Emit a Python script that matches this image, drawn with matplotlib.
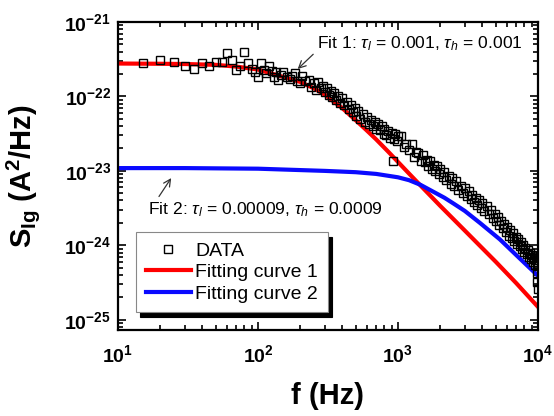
import math
import matplotlib
matplotlib.use("Agg")
import matplotlib.pyplot as plt
from matplotlib.ticker import FuncFormatter, FixedLocator, LogLocator, NullFormatter

plt.rcParams['font.family'] = ['Liberation Sans', 'DejaVu Sans']
plt.rcParams['mathtext.fontset'] = 'custom'
plt.rcParams['mathtext.rm'] = 'Liberation Sans'
plt.rcParams['mathtext.it'] = 'Liberation Sans:italic'
plt.rcParams['mathtext.bf'] = 'Liberation Sans:bold'

# measured noise spectrum (Hz, A^2/Hz)
freq = [15, 20, 25, 30, 35, 40, 45, 50, 55, 60, 65, 70, 75, 80, 85, 90, 95, 100, 105,
        110, 115, 120, 125, 130, 135, 140, 145, 150, 160, 170, 175, 185, 190, 200, 205,
        215, 230, 240, 250, 260, 270, 280, 290, 300,
        310, 320, 330, 340, 350, 360, 370, 385, 400, 415, 430, 445, 460, 475, 490, 505,
        520, 540, 560, 580, 600, 620, 640, 660, 680, 700, 720, 745, 770, 790, 800, 825,
        850, 875, 900, 920, 940, 960, 985, 1000,
        1050, 1100, 1150, 1200, 1250, 1300, 1350, 1400, 1450, 1500, 1550, 1600, 1650,
        1700, 1750, 1800, 1850, 1900, 1950, 2000, 2100, 2150, 2200, 2300, 2400, 2450,
        2500, 2600, 2700, 2800, 2900, 3000, 3100, 3200, 3300, 3400, 3500, 3600, 3700,
        3800, 3900, 4000, 4150, 4300, 4450, 4600, 4750, 4900, 5000, 5150, 5300, 5450,
        5600, 5750, 5900, 6050, 6200, 6350, 6500, 6650, 6800, 6950, 7100, 7250, 7400,
        7550, 7700, 7850, 8000, 8150, 8300, 8450, 8600, 8750, 8900, 9050, 9200, 9350,
        9500, 9650, 9800, 9850, 9900, 9950, 10000]
s_data = [2.79e-22, 3.09e-22, 2.93e-22, 2.59e-22, 2.34e-22, 2.79e-22, 2.59e-22, 2.93e-22,
          2.9e-22, 3.80e-22, 3.05e-22, 2.27e-22, 2.6e-22, 4.0e-22, 2.8e-22, 2.32e-22,
          2.16e-22, 1.85e-22, 2.79e-22,
          2.3e-22, 2.05e-22, 2.56e-22, 2.2e-22, 1.85e-22, 2.1e-22, 1.67e-22, 1.95e-22,
          2.16e-22, 1.8e-22, 1.70e-22, 1.9e-22, 2.05e-22, 1.6e-22, 1.5e-22, 1.88e-22,
          1.6e-22, 1.67e-22, 1.35e-22, 1.5e-22, 1.22e-22, 1.58e-22, 1.3e-22, 1.4e-22, 1.15e-22,
          1.28e-22, 1.05e-22, 1.18e-22, 9.8e-23, 1.1e-22, 9.0e-23, 1.0e-22, 8.2e-23, 9.5e-23,
          7.6e-23, 8.5e-23, 6.8e-23, 7.7e-23, 6.2e-23, 7.0e-23, 5.5e-23, 6.4e-23, 5.0e-23,
          5.8e-23, 4.6e-23, 5.3e-23, 4.3e-23, 4.9e-23, 4.0e-23, 4.5e-23, 3.7e-23, 4.3e-23,
          3.5e-23, 4.0e-23, 3.1e-23, 3.7e-23, 3.0e-23, 3.4e-23, 2.8e-23, 3.2e-23, 1.35e-23,
          2.7e-23, 3.1e-23, 2.5e-23, 2.9e-23,
          2.9e-23, 2.1e-23, 2.3e-23, 1.9e-23, 2.3e-23, 1.55e-23, 1.8e-23, 1.75e-23, 1.35e-23,
          1.65e-23, 1.3e-23, 1.4e-23, 1.15e-23, 1.35e-23, 1.05e-23, 1.2e-23, 1.0e-23,
          1.15e-23, 9.0e-24, 1.05e-23, 8.2e-24, 9.8e-24, 7.6e-24, 8.6e-24, 6.6e-24, 8.0e-24,
          6.2e-24, 7.3e-24, 5.6e-24, 6.3e-24, 5.0e-24, 5.8e-24, 4.6e-24, 5.3e-24, 4.2e-24,
          4.8e-24, 3.8e-24, 4.3e-24, 3.5e-24, 4.0e-24, 3.2e-24, 3.7e-24, 2.9e-24, 3.4e-24,
          2.6e-24, 3.0e-24, 2.3e-24, 2.6e-24, 2.1e-24, 2.4e-24, 1.9e-24, 2.15e-24, 1.7e-24,
          1.95e-24, 1.5e-24, 1.75e-24, 1.35e-24, 1.6e-24, 1.25e-24, 1.45e-24, 1.15e-24,
          1.3e-24, 1.05e-24, 1.2e-24, 9.7e-25, 1.1e-24, 8.8e-25, 1.0e-24, 8.2e-25, 9.3e-25,
          7.6e-25, 8.6e-25, 7.0e-25, 8.0e-25, 6.5e-25, 7.4e-25, 6.0e-25, 6.8e-25, 5.5e-25,
          6.3e-25, 4.2e-25, 5.6e-25, 3.2e-25, 2.6e-25, 5.2e-25]

# fitted curves
fit1_f = [10, 20, 30, 50, 70, 100, 150, 200, 250, 300, 400, 500, 600, 700, 850, 1000,
          1200, 1500, 2000, 3000, 5000, 7000, 10000]
fit1_s = [2.77e-22, 2.75e-22, 2.73e-22, 2.66e-22, 2.52e-22, 2.3e-22, 1.84e-22, 1.57e-22,
          1.29e-22, 1.06e-22, 6.98e-23, 4.78e-23, 3.48e-23, 2.64e-23, 1.82e-23, 1.32e-23,
          9.2e-24, 5.95e-24, 3.4e-24, 1.58e-24, 6.0e-25, 3.1e-25, 1.49e-25]
fit2_f = [10, 30, 100, 300, 500, 700, 1000, 1200, 1450, 2150, 2500, 3000, 3850, 5350,
          7450, 10000]
fit2_s = [1.09e-23, 1.09e-23, 1.07e-23, 1.0e-23, 9.6e-24, 9.1e-24, 8.2e-24, 7.5e-24,
          6.49e-24, 4.35e-24, 3.63e-24, 2.9e-24, 2.0e-24, 1.2e-24, 6.6e-25, 3.9e-25]

x_major = [1e1, 1e2, 1e3, 1e4]
y_major = [1e-25, 1e-24, 1e-23, 1e-22, 1e-21]

fig = plt.figure(figsize=(5.54, 4.16), dpi=100)
ax = fig.add_axes([0.213, 0.207, 0.758, 0.74])

ax.plot(fit1_f, fit1_s, color='#ff0000', lw=3, label='Fitting curve 1', zorder=2)
ax.plot(fit2_f, fit2_s, color='#0a0aff', lw=3, label='Fitting curve 2', zorder=2)
ax.plot(freq, s_data, ls='none', marker='s', ms=5.5, mfc='none', mec='k', mew=1.0,
        label='DATA', zorder=3)

ax.set_xscale('log')
ax.set_yscale('log')
ax.set_xlim(10, 1e4)
ax.set_ylim(7.3e-26, 1e-21)

ax.xaxis.set_major_locator(FixedLocator(x_major))
ax.yaxis.set_major_locator(FixedLocator(y_major))
ax.xaxis.set_minor_locator(LogLocator(base=10, subs=range(2, 10), numticks=20))
ax.yaxis.set_minor_locator(LogLocator(base=10, subs=range(2, 10), numticks=20))
fmt = FuncFormatter(lambda v, p: r'$\mathbf{10^{%d}}$' % round(math.log10(v)))
ax.xaxis.set_major_formatter(fmt)
ax.yaxis.set_major_formatter(fmt)
ax.xaxis.set_minor_formatter(NullFormatter())
ax.yaxis.set_minor_formatter(NullFormatter())
ax.tick_params(which='both', direction='in', top=True, right=True, width=1.2)
ax.tick_params(which='major', length=6, labelsize=14)
ax.tick_params(axis='x', which='major', pad=10)
ax.tick_params(axis='y', which='major', pad=5)
ax.tick_params(which='minor', length=3.5)
for sp in ax.spines.values():
    sp.set_linewidth(1.6)

ax.set_xlabel('f (Hz)', fontsize=21, fontweight='bold', labelpad=12)
ax.set_ylabel(r'$\mathbf{S_{Ig}}$ (A$^{\mathbf{2}}$/Hz)', fontsize=21, fontweight='bold',
              labelpad=16)

ax.annotate(r'Fit 1: $\tau_l$ = 0.001, $\tau_h$ = 0.001', xy=(189, 2.27e-22),
            xytext=(264, 5.2e-22), fontsize=12.6, ha='left', va='center',
            arrowprops=dict(arrowstyle='->', color='#333333', lw=0.9, relpos=(0, 0.1),
                            shrinkA=1, shrinkB=1))
ax.annotate(r'Fit 2: $\tau_l$ = 0.00009, $\tau_h$ = 0.0009', xy=(24.3, 8.3e-24),
            xytext=(16.4, 3.0e-24), fontsize=12.6, ha='left', va='center',
            arrowprops=dict(arrowstyle='->', color='#333333', lw=0.9, relpos=(0.03, 0.9),
                            shrinkA=1, shrinkB=1))

handles, labels = ax.get_legend_handles_labels()
order = [2, 0, 1]
leg = ax.legend([handles[i] for i in order], [labels[i] for i in order],
                loc='lower left', bbox_to_anchor=(0.02, 0.025), fontsize=14,
                fancybox=False, edgecolor='#888888', framealpha=1, handlelength=2.3,
                borderpad=0.5, labelspacing=0.2, handletextpad=0.25,
                shadow={'color': 'k', 'alpha': 1, 'ox': 3, 'oy': -3})
leg.get_frame().set_linewidth(0.8)

fig.savefig('out.png', dpi=100)
